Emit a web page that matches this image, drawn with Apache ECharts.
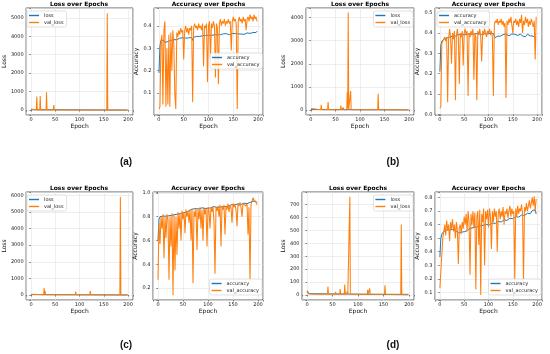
<!DOCTYPE html>
<html><head><meta charset="utf-8">
<script src="https://cdn.jsdelivr.net/npm/echarts@6/dist/echarts.min.js"></script>
<style>html,body{margin:0;padding:0;background:#fff}#c{width:550px;height:354px}</style>
</head><body><div id="c"></div>
<script>
// ---------- DATA ----------
const epochs = [0,2,4,6,8,10,12,14,16,18,20,22,24,26,28,30,32,34,36,38,40,42,44,46,48,50,52,54,56,58,60,62,64,66,68,70,72,74,76,78,80,82,84,86,88,90,92,94,96,98,100,102,104,106,108,110,112,114,116,118,120,122,124,126,128,130,132,134,136,138,140,142,144,146,148,150,152,154,156,158,160,162,164,166,168,170,172,174,176,178,180,182,184,186,188,190,192,194,196,198];
const xTicks = [0,50,100,150,200];

// (a)
const lossA = [[0,25],[2,4],[4,2],[199,1]];
const valLossA = [[0,60],[2,20],[4,5],[11,5],[12,730],[13,5],[18,5],[19,760],[20,5],[31,5],[32,960],[33,5],[46,5],[47,270],[48,5],[96,5],[97,90],[98,5],[156,5],[157,5250],[158,5],[199,5]];
const accA = [0.19,0.31,0.335,0.34,0.338,0.335,0.325,0.32,0.325,0.33,0.328,0.332,0.335,0.33,0.336,0.338,0.335,0.34,0.338,0.342,0.34,0.345,0.34,0.343,0.346,0.344,0.348,0.345,0.347,0.35,0.346,0.344,0.35,0.348,0.335,0.348,0.352,0.35,0.353,0.35,0.354,0.352,0.355,0.35,0.356,0.353,0.355,0.357,0.354,0.356,0.358,0.355,0.36,0.357,0.362,0.358,0.36,0.356,0.362,0.36,0.358,0.363,0.36,0.362,0.358,0.364,0.36,0.362,0.365,0.361,0.363,0.36,0.364,0.362,0.366,0.363,0.36,0.365,0.362,0.366,0.364,0.36,0.366,0.363,0.367,0.364,0.362,0.367,0.364,0.368,0.365,0.37,0.366,0.368,0.365,0.37,0.367,0.372,0.37,0.376];
const valAccA = [0.03,0.04,0.33,0.36,0.05,0.38,0.42,0.04,0.3,0.05,0.36,0.04,0.37,0.2,0.38,0.32,0.1,0.03,0.37,0.35,0.38,0.36,0.39,0.37,0.38,0.25,0.38,0.4,0.37,0.39,0.36,0.39,0.38,0.4,0.06,0.39,0.41,0.39,0.4,0.38,0.41,0.39,0.4,0.38,0.41,0.22,0.4,0.39,0.41,0.15,0.4,0.42,0.25,0.41,0.39,0.42,0.4,0.17,0.41,0.39,0.14,0.41,0.43,0.4,0.42,0.41,0.43,0.4,0.42,0.41,0.43,0.41,0.42,0.29,0.42,0.44,0.42,0.43,0.41,0.03,0.42,0.44,0.42,0.43,0.41,0.44,0.42,0.43,0.38,0.43,0.44,0.42,0.45,0.43,0.44,0.42,0.45,0.43,0.44,0.42];

// (b)
const lossB = [[0,20],[2,4],[4,2],[199,1]];
const valLossB = [[0,60],[3,10],[20,5],[21,220],[22,5],[34,5],[35,340],[36,5],[60,5],[61,190],[62,5],[65,5],[66,100],[67,5],[73,5],[74,780],[75,60],[76,4220],[77,5],[80,5],[81,820],[82,5],[136,5],[137,700],[138,5],[199,5]];
const accB = [0.21,0.34,0.36,0.365,0.37,0.368,0.372,0.375,0.37,0.378,0.38,0.376,0.382,0.385,0.38,0.388,0.385,0.39,0.387,0.392,0.39,0.388,0.393,0.39,0.395,0.392,0.396,0.39,0.394,0.397,0.393,0.396,0.392,0.397,0.394,0.396,0.393,0.397,0.395,0.392,0.397,0.394,0.396,0.393,0.398,0.395,0.397,0.393,0.398,0.395,0.397,0.394,0.399,0.396,0.4,0.397,0.39,0.375,0.38,0.385,0.38,0.388,0.384,0.39,0.386,0.392,0.385,0.39,0.395,0.388,0.392,0.386,0.393,0.389,0.395,0.39,0.386,0.394,0.39,0.396,0.388,0.393,0.387,0.395,0.39,0.385,0.393,0.388,0.382,0.39,0.394,0.388,0.392,0.386,0.394,0.39,0.385,0.393,0.388,0.37];
const valAccB = [0.03,0.04,0.35,0.36,0.37,0.38,0.36,0.38,0.06,0.37,0.42,0.38,0.25,0.4,0.37,0.41,0.07,0.39,0.42,0.38,0.15,0.4,0.38,0.41,0.24,0.4,0.42,0.39,0.41,0.09,0.4,0.38,0.41,0.39,0.42,0.17,0.4,0.38,0.07,0.41,0.39,0.42,0.38,0.26,0.41,0.39,0.42,0.4,0.38,0.41,0.4,0.42,0.39,0.41,0.38,0.09,0.44,0.46,0.45,0.47,0.44,0.46,0.45,0.47,0.44,0.46,0.43,0.45,0.08,0.46,0.44,0.47,0.45,0.48,0.44,0.4,0.46,0.45,0.47,0.44,0.46,0.43,0.47,0.45,0.49,0.4,0.46,0.44,0.48,0.45,0.47,0.43,0.46,0.44,0.47,0.45,0.43,0.46,0.27,0.48];

// (c)
const lossC = [[0,30],[2,8],[4,3],[199,1]];
const valLossC = [[0,50],[3,20],[26,20],[27,420],[28,80],[29,250],[30,20],[69,20],[70,110],[71,20],[91,20],[92,210],[93,20],[111,20],[112,110],[113,20],[121,20],[122,240],[123,20],[134,20],[135,100],[136,20],[183,20],[184,5900],[185,20],[199,20]];
const accC = [0.6,0.78,0.8,0.795,0.8,0.805,0.8,0.81,0.805,0.81,0.815,0.808,0.815,0.82,0.812,0.82,0.825,0.818,0.826,0.83,0.822,0.83,0.835,0.828,0.838,0.842,0.835,0.845,0.85,0.84,0.835,0.85,0.855,0.848,0.86,0.865,0.855,0.862,0.868,0.858,0.87,0.865,0.872,0.862,0.875,0.87,0.878,0.868,0.876,0.88,0.872,0.878,0.884,0.874,0.882,0.876,0.885,0.88,0.888,0.878,0.886,0.89,0.882,0.89,0.894,0.884,0.892,0.896,0.886,0.894,0.898,0.89,0.9,0.894,0.902,0.896,0.904,0.9,0.906,0.898,0.908,0.902,0.91,0.904,0.912,0.906,0.914,0.908,0.916,0.91,0.918,0.912,0.92,0.914,0.922,0.93,0.935,0.925,0.93,0.92];
const valAccC = [0.27,0.75,0.57,0.8,0.7,0.82,0.45,0.8,0.62,0.82,0.78,0.27,0.8,0.55,0.83,0.14,0.82,0.35,0.8,0.48,0.84,0.7,0.83,0.6,0.85,0.78,0.84,0.66,0.86,0.8,0.85,0.75,0.86,0.6,0.87,0.24,0.85,0.8,0.87,0.52,0.86,0.78,0.88,0.7,0.86,0.6,0.88,0.82,0.87,0.55,0.88,0.85,0.7,0.88,0.84,0.89,0.75,0.32,0.88,0.85,0.89,0.8,0.9,0.55,0.89,0.86,0.9,0.65,0.89,0.86,0.91,0.84,0.9,0.88,0.75,0.91,0.88,0.9,0.86,0.72,0.91,0.89,0.92,0.88,0.8,0.91,0.9,0.92,0.89,0.91,0.65,0.88,0.26,0.9,0.93,0.96,0.94,0.95,0.92,0.9];

// (d)
const lossD = [[0,30],[2,10],[5,4],[199,2]];
const valLossD = [[0,35],[2,30],[4,8],[20,5],[21,15],[22,5],[40,5],[41,65],[42,5],[55,5],[56,25],[57,5],[64,5],[65,45],[66,5],[73,5],[74,80],[75,5],[78,5],[79,25],[80,5],[83,5],[84,760],[85,5],[118,5],[119,40],[120,5],[122,5],[123,50],[124,5],[131,5],[132,15],[133,5],[152,5],[153,75],[154,5],[184,5],[185,545],[186,5],[199,5]];
const accD = [0.36,0.5,0.53,0.54,0.55,0.548,0.556,0.56,0.552,0.558,0.562,0.555,0.56,0.565,0.556,0.562,0.558,0.55,0.545,0.54,0.535,0.54,0.545,0.55,0.555,0.548,0.556,0.562,0.555,0.565,0.57,0.562,0.572,0.575,0.566,0.578,0.582,0.572,0.58,0.585,0.576,0.588,0.592,0.582,0.59,0.596,0.586,0.598,0.602,0.592,0.604,0.6,0.61,0.602,0.612,0.606,0.616,0.61,0.62,0.612,0.624,0.618,0.628,0.62,0.632,0.625,0.636,0.628,0.64,0.632,0.645,0.638,0.648,0.64,0.652,0.645,0.656,0.65,0.66,0.652,0.664,0.656,0.668,0.66,0.672,0.665,0.676,0.668,0.68,0.672,0.685,0.678,0.69,0.682,0.695,0.705,0.715,0.7,0.71,0.68];
const valAccD = [0.13,0.13,0.14,0.5,0.55,0.6,0.52,0.63,0.56,0.6,0.48,0.62,0.57,0.64,0.55,0.6,0.5,0.62,0.56,0.31,0.58,0.6,0.53,0.62,0.57,0.66,0.6,0.68,0.55,0.7,0.62,0.23,0.68,0.6,0.7,0.58,0.69,0.12,0.66,0.7,0.45,0.71,0.08,0.68,0.62,0.72,0.3,0.7,0.64,0.71,0.58,0.72,0.66,0.42,0.7,0.62,0.72,0.66,0.7,0.4,0.68,0.72,0.64,0.7,0.66,0.73,0.6,0.7,0.68,0.72,0.65,0.7,0.74,0.66,0.72,0.68,0.7,0.19,0.72,0.66,0.74,0.68,0.72,0.7,0.75,0.68,0.18,0.73,0.7,0.76,0.7,0.74,0.78,0.72,0.76,0.8,0.74,0.81,0.7,0.79];

const lossNames = ['loss','val_loss'];
const accNames = ['accuracy','val_accuracy'];
const panelLetters = ['(a)','(b)','(c)','(d)'];

// ---------- LAYOUT ----------
const FONT = 'DejaVu Sans';
const BLUE = '#1f77b4', ORANGE = '#ff7f0e';
const pairs = arr => epochs.map((e, i) => [e, arr[i]]);

const panels = [
  {f:[25,8,108,107],  y:[-265,5530], step:1000, dec:0, yName:'Loss',     gap:15.5, names:lossNames, tr:lossA, va:valLossA, lg:{left:27, top:11}},
  {f:[154,8,109,107], y:[0.003,0.479], step:0.1, dec:1, yName:'Accuracy', gap:10.5, names:accNames, tr:pairs(accA), va:pairs(valAccA), lg:{left:210, top:53}},
  {f:[306,8,108,107], y:[-220,4420], step:1000, dec:0, yName:'Loss',     gap:13.5, names:lossNames, tr:lossB, va:valLossB, lg:{right:137, top:11}},
  {f:[435,8,107,107], y:[-0.003,0.523], step:0.1, dec:1, yName:'Accuracy', gap:11, names:accNames, tr:pairs(accB), va:pairs(valAccB), lg:{left:437, top:11}},
  {f:[25,192,108,108], y:[-300,6200], step:1000, dec:0, yName:'Loss',    gap:15, names:lossNames, tr:lossC, va:valLossC, lg:{left:27, top:195}},
  {f:[153,192,110,108], y:[0.099,1.008], step:0.2, dec:1, yName:'Accuracy', gap:9, names:accNames, tr:pairs(accC), va:pairs(valAccC), lg:{right:288, top:279}},
  {f:[302,192,112,108], y:[-39,797], step:100, dec:0, yName:'Loss',      gap:10.5, names:lossNames, tr:lossD, va:valLossD, lg:{right:137, top:195}},
  {f:[435,192,107,108], y:[0.043,0.842], step:0.1, dec:1, yName:'Accuracy', gap:10.5, names:accNames, tr:pairs(accD), va:pairs(valAccD), lg:{right:9, top:279}}
];

const grid = [], xAxis = [], yAxis = [], series = [], legend = [], graphic = [];
const onStep = (v, s) => Math.abs(v / s - Math.round(v / s)) < 1e-6;

panels.forEach((p, i) => {
  const [l, t, w, h] = p.f;
  grid.push({left:l, top:t, width:w, height:h, show:true, borderColor:'#3a3a3a', borderWidth:0.8, backgroundColor:'#fff', containLabel:false});
  xAxis.push({
    gridIndex:i, type:'value', min:-10, max:210, minInterval:50, maxInterval:50,
    name:'Epoch', nameLocation:'middle', nameGap:7.5,
    nameTextStyle:{fontSize:6, color:'#111', fontFamily:FONT},
    axisLine:{show:false},
    axisTick:{show:true, length:1.5, lineStyle:{color:'#333', width:0.6}},
    axisLabel:{fontSize:5, margin:2.5, color:'#222', fontFamily:FONT,
      formatter: v => (xTicks.indexOf(Math.round(v)) >= 0 && onStep(v, 50)) ? String(Math.round(v)) : ''},
    splitLine:{show:true, lineStyle:{color:'#e2e2e2', width:0.6}}
  });
  yAxis.push({
    gridIndex:i, type:'value', min:p.y[0], max:p.y[1], minInterval:p.step, maxInterval:p.step,
    name:p.yName, nameLocation:'middle', nameGap:p.gap,
    nameTextStyle:{fontSize:6, color:'#111', fontFamily:FONT},
    axisLine:{show:false},
    axisTick:{show:true, length:1.5, lineStyle:{color:'#333', width:0.6}},
    axisLabel:{fontSize:5, margin:2.5, color:'#222', fontFamily:FONT,
      formatter: v => {
        if (!onStep(v, p.step)) return '';
        const k = Math.round(v / p.step);
        return p.dec ? (k * p.step).toFixed(p.dec) : String(k * p.step);
      }},
    splitLine:{show:true, lineStyle:{color:'#e2e2e2', width:0.6}}
  });
  series.push({type:'line', name:p.names[0], xAxisIndex:i, yAxisIndex:i, data:p.tr,
    symbol:'none', lineStyle:{width:1, color:BLUE}, itemStyle:{color:BLUE}, z:2, silent:true});
  series.push({type:'line', name:p.names[1], xAxisIndex:i, yAxisIndex:i, data:p.va,
    symbol:'none', lineStyle:{width:1.05, color:ORANGE}, itemStyle:{color:ORANGE}, z:3, silent:true});
  legend.push(Object.assign({
    data:p.names, orient:'vertical', icon:'rect', itemWidth:10, itemHeight:1.4, itemGap:2,
    padding:[2,3,2,2], selectedMode:false,
    textStyle:{fontSize:5, color:'#222', fontFamily:FONT},
    backgroundColor:'rgba(255,255,255,0.85)', borderColor:'#cfcfcf', borderWidth:0.6, borderRadius:2
  }, p.lg));
  graphic.push({type:'text', x:l + w / 2, y:t - 3.5, style:{text:p.yName === 'Loss' ? 'Loss over Epochs' : 'Accuracy over Epochs',
    font:'bold 6px "DejaVu Sans"', fill:'#000', align:'center', verticalAlign:'middle'}});
});

const letterPos = [[126,162],[393,162],[126,345],[393,345]];
panelLetters.forEach((s, i) => {
  graphic.push({type:'text', x:letterPos[i][0], y:letterPos[i][1], style:{text:s,
    font:'bold 10px "Liberation Sans"', fill:'#111', align:'center', verticalAlign:'middle'}});
});

const chart = echarts.init(document.getElementById('c'), null, {renderer:'canvas'});
chart.setOption({animation:false, backgroundColor:'#fff', grid, xAxis, yAxis, series, legend, graphic});
</script></body></html>
